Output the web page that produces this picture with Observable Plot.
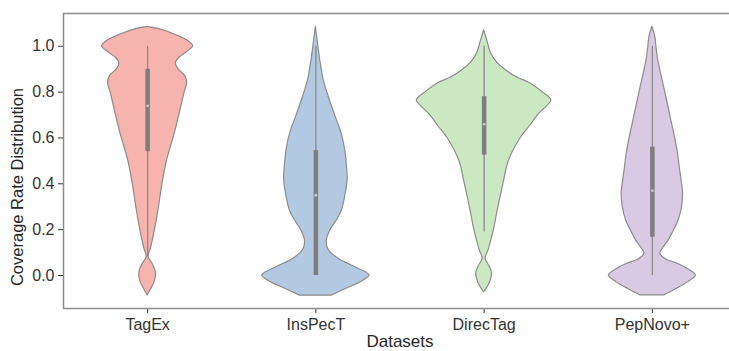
<!DOCTYPE html>
<html><head><meta charset="utf-8">
<script src="https://cdn.jsdelivr.net/npm/d3@7"></script>
<script src="https://cdn.jsdelivr.net/npm/@observablehq/plot@0.6"></script>
<style>body{margin:0;background:#fff}</style>
</head><body><div id="chart"></div>
<script>
const categories = ["TagEx", "InsPecT", "DirecTag", "PepNovo+"];
const colors = ["#f7b3ad", "#b3c9e1", "#cce8c3", "#dac9e2"];
const yTicks = [0, 0.2, 0.4, 0.6, 0.8, 1.0];
const xLabel = "Datasets";
const yLabel = "Coverage Rate Distribution";

// density profiles (coverage level -> relative density, widest violin = 1)
const tagexLevels = [1.085, 1.075, 1.05, 1.02, 1.0, 0.975, 0.95, 0.925, 0.9, 0.87, 0.84, 0.8, 0.7, 0.62, 0.5, 0.4, 0.3, 0.2, 0.12, 0.08, 0.05, 0.02, 0.0, -0.03, -0.06, -0.087];
const tagexDensity = [0, 0.176, 0.412, 0.618, 0.676, 0.588, 0.471, 0.419, 0.456, 0.559, 0.588, 0.551, 0.471, 0.404, 0.287, 0.221, 0.169, 0.110, 0.051, 0.015, 0.074, 0.118, 0.125, 0.103, 0.051, 0];
const inspectLevels = [1.085, 1.0, 0.95, 0.91, 0.85, 0.76, 0.68, 0.62, 0.55, 0.47, 0.415, 0.33, 0.28, 0.24, 0.2, 0.153, 0.12, 0.1, 0.07, 0.04, 0.015, 0.0, -0.03, -0.06, -0.088];
const inspectDensity = [0, 0.037, 0.059, 0.081, 0.118, 0.213, 0.309, 0.382, 0.434, 0.463, 0.471, 0.426, 0.382, 0.309, 0.221, 0.162, 0.176, 0.221, 0.353, 0.559, 0.735, 0.801, 0.662, 0.441, 0.235];
const directagLevels = [1.07, 1.02, 0.97, 0.93, 0.895, 0.865, 0.84, 0.8, 0.764, 0.74, 0.707, 0.65, 0.6, 0.5, 0.4, 0.28, 0.21, 0.15, 0.11, 0.073, 0.04, 0.01, -0.03, -0.055, -0.073];
const directagDensity = [0, 0.051, 0.103, 0.191, 0.324, 0.485, 0.676, 0.868, 1.0, 0.941, 0.824, 0.676, 0.544, 0.368, 0.287, 0.199, 0.154, 0.103, 0.066, 0.022, 0.081, 0.118, 0.088, 0.044, 0];
const pepnovoLevels = [1.085, 1.04, 1.0, 0.95, 0.895, 0.82, 0.75, 0.68, 0.6, 0.53, 0.46, 0.4, 0.357, 0.3, 0.24, 0.19, 0.153, 0.12, 0.095, 0.07, 0.05, 0.025, 0.0, -0.03, -0.06, -0.087];
const pepnovoDensity = [0, 0.044, 0.059, 0.081, 0.118, 0.176, 0.228, 0.279, 0.338, 0.382, 0.412, 0.441, 0.456, 0.441, 0.390, 0.309, 0.243, 0.162, 0.118, 0.206, 0.382, 0.544, 0.647, 0.529, 0.353, 0.176];

// inner box statistics
const whiskerLow = [0.08, 0.0, 0.19, 0.0];
const q1 = [0.54, 0.0, 0.525, 0.167];
const median = [0.74, 0.35, 0.66, 0.37];
const q3 = [0.90, 0.545, 0.78, 0.56];
const whiskerHigh = [1.0, 1.0, 1.0, 1.0];

const profiles = [
  [tagexLevels, tagexDensity],
  [inspectLevels, inspectDensity],
  [directagLevels, directagDensity],
  [pepnovoLevels, pepnovoDensity]
];
const maxHalf = 0.4;
const rows = [];
profiles.forEach(([lv, dn], i) => lv.forEach((y, j) => rows.push({cat: categories[i], i, y, w: dn[j] * maxHalf})));
const stats = categories.map((c, i) => ({cat: c, i, lo: whiskerLow[i], q1: q1[i], med: median[i], q3: q3[i], hi: whiskerHigh[i]}));

const chart = Plot.plot({
  width: 729,
  height: 351,
  marginTop: 13,
  marginBottom: 43,
  marginLeft: 63,
  marginRight: -7,
  style: {fontFamily: "'Liberation Sans', Arial, sans-serif", fontSize: "16px", color: "#333", background: "#fff", overflow: "hidden"},
  x: {domain: [-0.5, 3.5], ticks: [0, 1, 2, 3], tickFormat: i => categories[i], tickSize: 5, tickPadding: 5, label: null},
  y: {domain: [-0.144, 1.143], ticks: yTicks, tickFormat: d3.format(".1f"), tickSize: 5, tickPadding: 4, label: null},
  color: {domain: categories, range: colors},
  marks: [
    Plot.areaX(rows, {y: "y", x1: d => d.i - d.w, x2: d => d.i + d.w, z: "cat", fill: "cat", stroke: "#8c8c8c", strokeWidth: 1.2, curve: "catmull-rom"}),
    Plot.ruleX(stats, {x: "i", y1: "lo", y2: "hi", stroke: "#8a8a8a", strokeWidth: 1.3}),
    Plot.ruleX(stats, {x: "i", y1: "q1", y2: "q3", stroke: "#7e7e7e", strokeWidth: 4.5}),
    Plot.dot(stats, {x: "i", y: "med", r: 1.4, fill: "#c8c8c8", stroke: null}),
    Plot.frame({stroke: "#8a8a8a", strokeWidth: 1.5}),
    Plot.text([yLabel], {frameAnchor: "left", textAnchor: "middle", rotate: -90, dx: -46, dy: 26, fontSize: 16.5, fill: "#262626"}),
    Plot.text([xLabel], {frameAnchor: "bottom", textAnchor: "middle", dy: 38, fontSize: 17, fill: "#262626"})
  ]
});
document.getElementById("chart").appendChild(chart);
</script>
</body></html>
